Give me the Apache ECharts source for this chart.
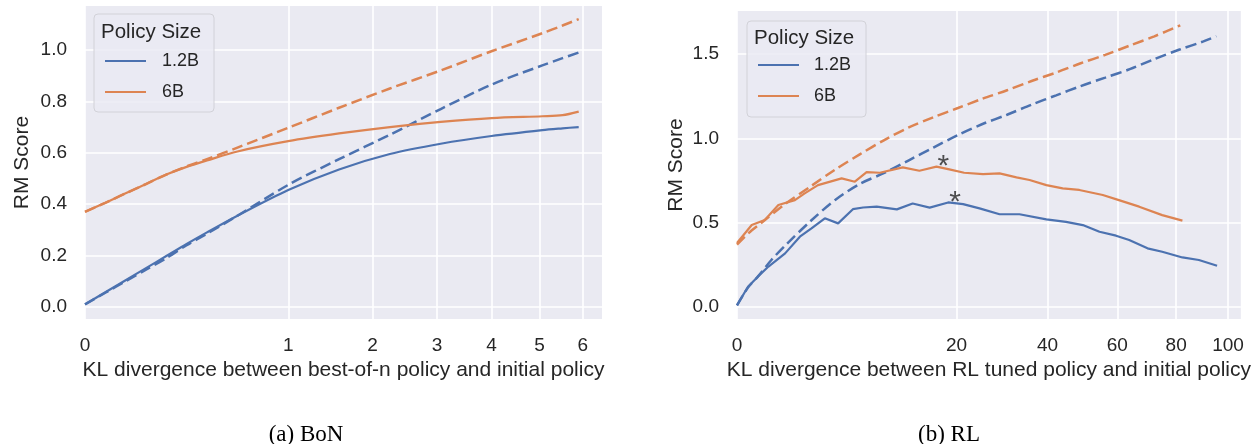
<!DOCTYPE html>
<html>
<head>
<meta charset="utf-8">
<script src="https://cdn.jsdelivr.net/npm/echarts@6/dist/echarts.min.js"></script>
<style>
  html, body { margin: 0; padding: 0; background: #ffffff; }
  #chart { width: 1254px; height: 444px; }
</style>
</head>
<body>
<div id="chart"></div>
<script>
// ---- Best-of-n: KL divergence (nats) and RM scores ----
const bonKL       = [0, 0.01, 0.04, 0.09, 0.16, 0.25, 0.36, 0.5625, 1, 1.5625, 2.25, 3.0625, 4, 5.0625, 5.52, 5.9];
const bonGold12   = [0.01, 0.057, 0.104, 0.151, 0.198, 0.245, 0.29, 0.355, 0.455, 0.535, 0.595, 0.635, 0.665, 0.688, 0.695, 0.70];
const bonProxy12  = [0.01, 0.055, 0.10, 0.145, 0.19, 0.24, 0.285, 0.355, 0.475, 0.575, 0.67, 0.77, 0.865, 0.94, 0.968, 0.99];
const bonGold6    = [0.37, 0.405, 0.442, 0.478, 0.515, 0.545, 0.57, 0.605, 0.645, 0.675, 0.70, 0.72, 0.735, 0.742, 0.746, 0.76];
const bonProxy6   = [0.37, 0.405, 0.442, 0.478, 0.515, 0.547, 0.575, 0.62, 0.697, 0.775, 0.85, 0.92, 0.995, 1.065, 1.095, 1.12];

// ---- RL: KL divergence (nats) and RM scores ----
const rlGold12KL  = [0, 0.05, 0.18, 0.41, 0.96, 1.64, 2.3, 3.2, 4.24, 5.57, 6.6, 8.1, 10.6, 12.8, 15.4, 18.5, 21.2, 24.4, 28.6, 33.1, 39.7, 44.9, 49.6, 54.5, 59.6, 63.8, 69.9, 75, 82.3, 88.5, 95.6];
const rlGold12    = [0.01, 0.12, 0.18, 0.24, 0.318, 0.417, 0.466, 0.526, 0.496, 0.58, 0.59, 0.595, 0.579, 0.614, 0.589, 0.62, 0.61, 0.585, 0.55, 0.55, 0.52, 0.505, 0.486, 0.446, 0.423, 0.397, 0.348, 0.328, 0.294, 0.279, 0.245];
const rlGold6KL   = [0, 0.09, 0.32, 0.71, 1.39, 1.9, 2.72, 4.54, 5.76, 6.97, 8.47, 11.4, 13.8, 16.5, 18.7, 21.4, 25.1, 28.6, 32.4, 35.5, 39.7, 44, 48.6, 55.5, 60.5, 67.1, 75, 82.3];
const rlGold6     = [0.38, 0.486, 0.516, 0.605, 0.634, 0.674, 0.723, 0.763, 0.743, 0.80, 0.796, 0.828, 0.808, 0.832, 0.816, 0.796, 0.788, 0.792, 0.769, 0.753, 0.723, 0.703, 0.694, 0.664, 0.634, 0.595, 0.545, 0.512];
const rlProxy12KL = [0, 0.05, 0.18, 0.49, 1, 2.25, 4, 6.25, 9, 12.25, 16, 20.25, 25, 30.25, 36, 42.25, 49, 56.25, 64, 72.25, 81, 90.25, 95.3];
const rlProxy12   = [0.01, 0.115, 0.18, 0.279, 0.37, 0.51, 0.635, 0.73, 0.795, 0.87, 0.945, 1.02, 1.085, 1.14, 1.20, 1.255, 1.31, 1.36, 1.41, 1.47, 1.525, 1.575, 1.606];
const rlProxy6KL  = [0, 0.05, 0.25, 1, 2.25, 4, 6.25, 9, 12.25, 16, 20.25, 25, 30.25, 36, 42.25, 49, 56.25, 64, 72.25, 81.5];
const rlProxy6    = [0.37, 0.435, 0.50, 0.615, 0.715, 0.815, 0.905, 0.99, 1.065, 1.125, 1.18, 1.235, 1.285, 1.34, 1.39, 1.445, 1.495, 1.55, 1.605, 1.67];

// ---- tick labels ----
const bonXTicks = [0, 1, 2, 3, 4, 5, 6];
const rlXTicks  = [0, 20, 40, 60, 80, 100];
const bonYTicks = [0, 0.2, 0.4, 0.6, 0.8, 1.0];
const rlYTicks  = [0, 0.5, 1.0, 1.5];

const sizes = ['1.2B', '6B'];

const BLUE = '#4c72b0';
const ORANGE = '#dd8452';
const TXT = '#262626';
const FONT = '"Liberation Sans", Arial, sans-serif';

// x positions use a square-root scale of KL
const pts = (kl, vals) => kl.map((k, i) => [Math.sqrt(k), vals[i]]);

function lineSeries(name, kl, vals, color, dashed, gi, smooth) {
  return {
    type: 'line', name, xAxisIndex: gi, yAxisIndex: gi,
    data: pts(kl, vals), symbol: 'none', smooth: smooth ? 0.3 : false,
    lineStyle: { color, width: dashed ? 2.5 : 2.2, type: dashed ? [11, 5] : 'solid', cap: 'butt' },
    itemStyle: { color }, z: dashed ? 3 : 4, animation: false
  };
}

function xAxis(gi, ticks, maxKL, name) {
  const vals = ticks.map(Math.sqrt);
  return {
    type: 'value', gridIndex: gi, min: 0, max: Math.sqrt(maxKL),
    name, nameLocation: 'middle', nameGap: 37,
    nameTextStyle: { fontSize: 21, color: TXT, fontFamily: FONT },
    axisLine: { show: false }, axisTick: { show: false, customValues: vals },
    axisLabel: { customValues: vals, formatter: v => String(Math.round(v * v)),
                 fontSize: 19, color: TXT, fontFamily: FONT, margin: 17 },
    splitLine: { show: true, lineStyle: { color: '#ffffff', width: 1.6 } }
  };
}

function yAxis(gi, ticks, min, max, gap) {
  return {
    type: 'value', gridIndex: gi, min, max,
    name: 'RM Score', nameLocation: 'middle', nameGap: gap,
    nameTextStyle: { fontSize: 21, color: TXT, fontFamily: FONT },
    axisLine: { show: false }, axisTick: { show: false, customValues: ticks },
    axisLabel: { customValues: ticks, formatter: v => v.toFixed(1),
                 fontSize: 19, color: TXT, fontFamily: FONT, margin: 18 },
    splitLine: { show: true, lineStyle: { color: '#ffffff', width: 1.6 } }
  };
}

function legend(left, top, padding, textGap) {
  return {
    left, top, orient: 'vertical', data: sizes,
    itemWidth: 41, itemHeight: 14, itemGap: 13, padding,
    itemStyle: { opacity: 0 },
    backgroundColor: 'rgba(234,234,242,0.8)', borderColor: '#d2d2d8', borderWidth: 1, borderRadius: 4,
    textStyle: { fontSize: 18, color: TXT, fontFamily: FONT, padding: [0, 0, 0, textGap] },
    selectedMode: false
  };
}

// peak of each RL gold curve gets an asterisk
function peak(kl, vals) {
  let bi = 0;
  vals.forEach((v, i) => { if (v > vals[bi]) bi = i; });
  return [Math.sqrt(kl[bi]), vals[bi]];
}

const chart = echarts.init(document.getElementById('chart'), null, { renderer: 'canvas' });

chart.setOption({
  animation: false,
  backgroundColor: '#ffffff',
  grid: [
    { left: 85, top: 6, width: 517, height: 313, show: true, backgroundColor: '#eaeaf2', borderWidth: 0 },
    { left: 737, top: 11, width: 505, height: 308, show: true, backgroundColor: '#eaeaf2', borderWidth: 0 }
  ],
  xAxis: [
    xAxis(0, bonXTicks, 6.47, 'KL divergence between best-of-n policy and initial policy'),
    xAxis(1, rlXTicks, 105.3, 'KL divergence between RL tuned policy and initial policy')
  ],
  yAxis: [
    yAxis(0, bonYTicks, -0.047, 1.171, 52),
    yAxis(1, rlYTicks, -0.071, 1.755, 50)
  ],
  legend: [
    legend(94, 14, [38, 15, 11, 10], 11),
    legend(747, 21, [35, 15, 12, 10], 10)
  ],
  series: [
    lineSeries('1.2B proxy', bonKL, bonProxy12, BLUE, true, 0, true),
    lineSeries('6B proxy', bonKL, bonProxy6, ORANGE, true, 0, true),
    lineSeries(sizes[0], bonKL, bonGold12, BLUE, false, 0, true),
    lineSeries(sizes[1], bonKL, bonGold6, ORANGE, false, 0, true),
    lineSeries('1.2B proxy', rlProxy12KL, rlProxy12, BLUE, true, 1, true),
    lineSeries('6B proxy', rlProxy6KL, rlProxy6, ORANGE, true, 1, true),
    lineSeries(sizes[0], rlGold12KL, rlGold12, BLUE, false, 1, false),
    lineSeries(sizes[1], rlGold6KL, rlGold6, ORANGE, false, 1, false),
    {
      type: 'scatter', name: 'peak', xAxisIndex: 1, yAxisIndex: 1,
      data: [peak(rlGold6KL, rlGold6), peak(rlGold12KL, rlGold12)],
      symbolSize: 0, z: 6, silent: true,
      label: { show: true, position: 'inside', formatter: '*', offset: [7, 0],
               fontSize: 30, color: TXT, fontFamily: FONT }
    }
  ],
  graphic: [
    { type: 'text', x: 101, y: 32.5, z: 100,
      style: { text: 'Policy Size', font: '20.5px "Liberation Sans", Arial, sans-serif', fill: TXT, verticalAlign: 'middle' } },
    { type: 'text', x: 754, y: 38, z: 100,
      style: { text: 'Policy Size', font: '20.5px "Liberation Sans", Arial, sans-serif', fill: TXT, verticalAlign: 'middle' } },
    { type: 'text', x: 306, y: 435, z: 100,
      style: { text: '(a) BoN', font: '23px "Liberation Serif", "Times New Roman", serif', fill: '#000000', align: 'center', verticalAlign: 'middle' } },
    { type: 'text', x: 949, y: 435, z: 100,
      style: { text: '(b) RL', font: '23px "Liberation Serif", "Times New Roman", serif', fill: '#000000', align: 'center', verticalAlign: 'middle' } }
  ]
});
</script>
</body>
</html>
